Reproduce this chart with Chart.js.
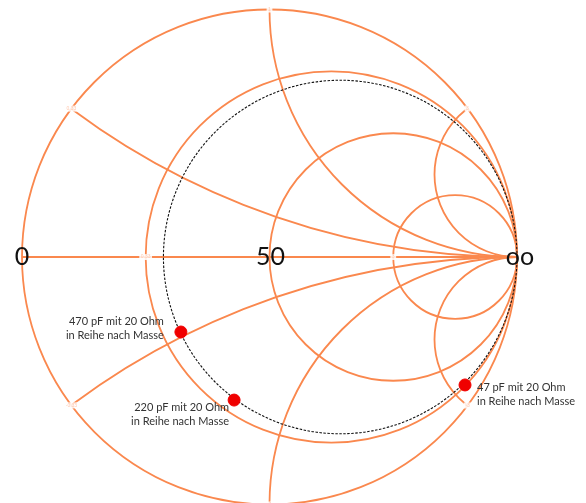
<!DOCTYPE html>
<html>
<head>
<meta charset="utf-8">
<script src="https://cdn.jsdelivr.net/npm/chart.js@4"></script>
<style>
  html, body { margin: 0; padding: 0; background: #fff; }
  #wrap { width: 586px; height: 503px; position: relative; }
</style>
</head>
<body>
<div id="wrap"><canvas id="smith"></canvas></div>
<script>
// Smith chart grid (normalised to 50 Ohm)
const resistanceValues = [0, 0.333, 1, 3];
const resistanceLabels = ['', '0.33', '', '3'];
const reactanceValues = [0.333, 1, 3, -0.333, -1, -3];
const reactanceLabels = ['0.33', '1', '3', '-0.33', '-1', '-3'];
const matchResistance = 0.4; // 20 Ohm series resistor -> dashed circle

const pointRe = [-0.358, -0.143, 0.790];
const pointIm = [-0.303, -0.578, -0.517];
const pointLabels = [
    ['470 pF mit 20 Ohm', 'in Reihe nach Masse'],
    ['220 pF mit 20 Ohm', 'in Reihe nach Masse'],
    ['47 pF mit 20 Ohm', 'in Reihe nach Masse']
];

// axis labels along the real axis
const axisLabelPos = [-1, 0, 1];
const axisLabelText = ['0', '50', 'oo'];

const ORANGE = 'rgb(250,136,78)';

const gridPlugin = {
    id: 'smithGrid',
    beforeDatasetsDraw(chart) {
        const ctx = chart.ctx;
        const sx = chart.scales.x, sy = chart.scales.y;
        const px = v => sx.getPixelForValue(v);
        const py = v => sy.getPixelForValue(v);
        const unit = px(1) - px(0);

        ctx.save();
        ctx.strokeStyle = ORANGE;
        ctx.lineWidth = 1.8;

        // real axis
        ctx.beginPath();
        ctx.moveTo(px(-1), py(0));
        ctx.lineTo(px(1), py(0));
        ctx.stroke();

        // constant resistance circles
        resistanceValues.forEach(r => {
            ctx.beginPath();
            ctx.arc(px(r / (1 + r)), py(0), unit / (1 + r), 0, Math.PI * 2);
            ctx.stroke();
        });

        // constant reactance arcs, clipped to the unit circle
        ctx.save();
        ctx.beginPath();
        ctx.arc(px(0), py(0), unit, 0, Math.PI * 2);
        ctx.clip();
        reactanceValues.forEach(x => {
            ctx.beginPath();
            ctx.arc(px(1), py(1 / x), unit / Math.abs(x), 0, Math.PI * 2);
            ctx.stroke();
        });
        ctx.restore();

        // dashed circle for the 20 Ohm series resistance
        ctx.beginPath();
        ctx.setLineDash([2.5, 1.5]);
        ctx.strokeStyle = '#111';
        ctx.lineWidth = 1.1;
        ctx.arc(px(matchResistance / (1 + matchResistance)), py(0), unit / (1 + matchResistance), 0, Math.PI * 2);
        ctx.stroke();
        ctx.setLineDash([]);

        // tiny grid labels
        ctx.font = '5px "Liberation Sans"';
        ctx.textAlign = 'center';
        ctx.textBaseline = 'middle';
        const tag = (x, y, t) => {
            const w = ctx.measureText(t).width + 3;
            ctx.fillStyle = 'rgba(255,255,255,0.85)';
            ctx.fillRect(x - w / 2, y - 3, w, 6);
            ctx.fillStyle = 'rgb(255,200,175)';
            ctx.fillText(t, x, y);
        };
        resistanceValues.forEach((r, i) => {
            if (resistanceLabels[i]) tag(px((r - 1) / (r + 1)), py(0), resistanceLabels[i]);
        });
        reactanceValues.forEach((x, i) => {
            const d = x * x + 1;
            tag(px((x * x - 1) / d), py(2 * x / d), reactanceLabels[i]);
        });
        ctx.restore();
    },
    afterDatasetsDraw(chart) {
        const ctx = chart.ctx;
        const sx = chart.scales.x, sy = chart.scales.y;
        ctx.save();
        ctx.fillStyle = '#111';
        ctx.font = '25px Lato';
        ctx.textBaseline = 'middle';
        ctx.textAlign = 'center';
        axisLabelPos.forEach((v, i) => {
            const shift = i === 2 ? 3 : (i === 1 ? 1 : 0);
            ctx.fillText(axisLabelText[i], sx.getPixelForValue(v) + shift, sy.getPixelForValue(0));
        });

        // point annotations
        ctx.font = '11px Lato';
        ctx.fillStyle = '#333';
        const offsets = [
            { dx: -17, dy: -11, align: 'right' },
            { dx: -5, dy: 7, align: 'right' },
            { dx: 12, dy: 2, align: 'left' }
        ];
        pointLabels.forEach((lines, i) => {
            const x = sx.getPixelForValue(pointRe[i]);
            const y = sy.getPixelForValue(pointIm[i]);
            const o = offsets[i];
            ctx.textAlign = o.align;
            lines.forEach((t, k) => ctx.fillText(t, x + o.dx, y + o.dy + k * 14));
        });
        ctx.restore();
    }
};

new Chart(document.getElementById('smith'), {
    type: 'scatter',
    data: {
        datasets: [{
            data: pointRe.map((re, i) => ({ x: re, y: pointIm[i] })),
            backgroundColor: 'rgb(240,0,0)',
            borderColor: 'rgb(240,0,0)',
            pointRadius: 6,
            pointHoverRadius: 6
        }]
    },
    options: {
        responsive: true,
        maintainAspectRatio: false,
        animation: false,
        layout: { padding: 0, autoPadding: false },
        plugins: { legend: { display: false }, tooltip: { enabled: false } },
        scales: {
            x: { type: 'linear', display: false, min: -1.0889, max: 1.2788 },
            y: { type: 'linear', display: false, min: -0.9939, max: 1.0384 }
        }
    },
    plugins: [gridPlugin]
});
</script>
</body>
</html>
